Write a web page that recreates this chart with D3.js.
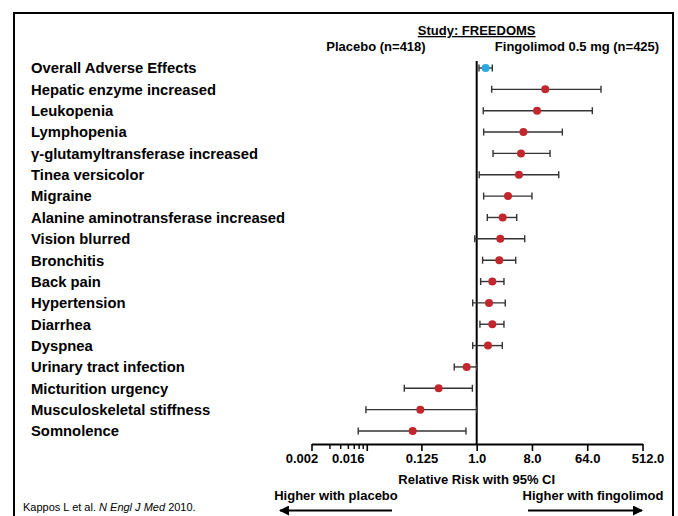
<!DOCTYPE html>
<html>
<head>
<meta charset="utf-8">
<script src="https://cdn.jsdelivr.net/npm/d3@7"></script>
<style>
  body { margin: 0; background: #fff; }
  svg { font-family: 'Liberation Sans', Arial, sans-serif; }
</style>
</head>
<body>
<svg id="forest"></svg>
<script>
const size = {w: 678, h: 516};

// adverse events, top to bottom
const events = [
    'Overall Adverse Effects',
    'Hepatic enzyme increased',
    'Leukopenia',
    'Lymphopenia',
    'γ-glutamyltransferase increased',
    'Tinea versicolor',
    'Migraine',
    'Alanine aminotransferase increased',
    'Vision blurred',
    'Bronchitis',
    'Back pain',
    'Hypertension',
    'Diarrhea',
    'Dyspnea',
    'Urinary tract infection',
    'Micturition urgency',
    'Musculoskeletal stiffness',
    'Somnolence'
];
const relRisk = [1.4, 13.2, 9.7, 5.8, 5.3, 4.9, 3.25, 2.66, 2.43, 2.34, 1.8, 1.59, 1.8, 1.53, 0.686, 0.239, 0.12, 0.09];
const ciLow   = [1.09, 1.76, 1.28, 1.3, 1.85, 1.1, 1.3, 1.49, 0.93, 1.25, 1.16, 0.86, 1.13, 0.86, 0.43, 0.0656, 0.0155, 0.0116];
const ciHigh  = [1.8, 107.5, 77.5, 25.1, 15.8, 21.9, 8.0, 4.51, 6.09, 4.34, 2.79, 2.93, 2.79, 2.62, 1.0, 0.85, 1.0, 0.668];

const majorTicks = [0.002, 0.016, 0.125, 1, 8, 64, 512];
const majorLabels = ['0.002', '0.016', '0.125', '1.0', '8.0', '64.0', '512.0'];
const minorTicks = [0.004, 0.006, 0.008, 0.010, 0.012, 0.014];

const svg = d3.select('svg#forest')
    .attr('width', size.w)
    .attr('height', size.h);

// frame (bottom edge runs off the picture)
svg.append('path')
    .attr('d', 'M14,530 V13 H673 V530')
    .attr('fill', 'none')
    .attr('stroke', '#000')
    .attr('stroke-width', 2);

const x = d3.scaleLog()
    .base(2)
    .domain([0.002, 512])
    .range([311.5, 642.5]);

const y = d3.scalePoint()
    .domain(events)
    .range([68, 431]);

const axisY = 444;

// header
svg.append('text')
    .attr('x', x(1)).attr('y', 35)
    .attr('text-anchor', 'middle')
    .attr('font-size', 13).attr('font-weight', 'bold')
    .attr('text-decoration', 'underline')
    .text('Study: FREEDOMS');
svg.append('text')
    .attr('x', 376).attr('y', 51)
    .attr('text-anchor', 'middle')
    .attr('font-size', 13).attr('font-weight', 'bold')
    .text('Placebo (n=418)');
svg.append('text')
    .attr('x', 577).attr('y', 51)
    .attr('text-anchor', 'middle')
    .attr('font-size', 13).attr('font-weight', 'bold')
    .text('Fingolimod 0.5 mg (n=425)');

// row labels
svg.append('g')
    .selectAll('text')
    .data(events)
    .join('text')
    .attr('x', 31)
    .attr('y', d => y(d))
    .attr('dy', '0.36em')
    .attr('font-size', 14.8)
    .attr('font-weight', 'bold')
    .text(d => d);

// x axis
const axisG = svg.append('g')
    .attr('transform', `translate(0, ${axisY})`);

axisG.call(d3.axisBottom(x)
    .tickValues(majorTicks)
    .tickSize(7)
    .tickSizeOuter(0)
    .tickPadding(3)
    .tickFormat((d, i) => majorLabels[i]));

axisG.select('.domain').attr('stroke-width', 2);
axisG.selectAll('.tick line').attr('stroke-width', 1.6);
const labelNudge = {0: -10, 1: -19, 6: 5};
axisG.selectAll('.tick text')
    .attr('font-size', 13)
    .attr('font-weight', 'bold')
    .attr('font-family', 'Liberation Sans, Arial, sans-serif')
    .attr('fill', '#000')
    .attr('dx', (d, i) => labelNudge[i] || 0);

axisG.append('g')
    .selectAll('line')
    .data(minorTicks)
    .join('line')
    .attr('x1', d => x(d)).attr('x2', d => x(d))
    .attr('y1', 0).attr('y2', 5)
    .attr('stroke', '#000')
    .attr('stroke-width', 1.4);

svg.append('text')
    .attr('x', x(1)).attr('y', 484)
    .attr('text-anchor', 'middle')
    .attr('font-size', 13).attr('font-weight', 'bold')
    .text('Relative Risk with 95% CI');

// line of no effect
svg.append('line')
    .attr('x1', x(1)).attr('x2', x(1))
    .attr('y1', 61).attr('y2', axisY)
    .attr('stroke', '#000')
    .attr('stroke-width', 2);

// confidence intervals
const rows = events.map((name, i) => ({name: name, rr: relRisk[i], lo: ciLow[i], hi: ciHigh[i]}));

const ciG = svg.append('g')
    .selectAll('g')
    .data(rows)
    .join('g')
    .attr('stroke', '#333')
    .attr('stroke-width', 1.4);

ciG.append('line')
    .attr('x1', d => x(d.lo)).attr('x2', d => x(d.hi))
    .attr('y1', d => y(d.name)).attr('y2', d => y(d.name));
ciG.append('line')
    .attr('x1', d => x(d.lo)).attr('x2', d => x(d.lo))
    .attr('y1', d => y(d.name) - 3.5).attr('y2', d => y(d.name) + 3.5);
ciG.append('line')
    .attr('x1', d => x(d.hi)).attr('x2', d => x(d.hi))
    .attr('y1', d => y(d.name) - 3.5).attr('y2', d => y(d.name) + 3.5);

svg.append('g')
    .selectAll('circle')
    .data(rows)
    .join('circle')
    .attr('cx', d => x(d.rr))
    .attr('cy', d => y(d.name))
    .attr('r', 4)
    .attr('fill', (d, i) => i === 0 ? '#29abe2' : '#c1272d');

// direction arrows
svg.append('defs').append('marker')
    .attr('id', 'head')
    .attr('viewBox', '0 0 10 10')
    .attr('refX', 9).attr('refY', 5)
    .attr('markerWidth', 6).attr('markerHeight', 5)
    .attr('markerUnits', 'strokeWidth')
    .attr('orient', 'auto')
    .append('path')
    .attr('d', 'M0,0 L10,5 L0,10 Z')
    .attr('fill', '#000');

svg.append('text')
    .attr('x', 336).attr('y', 500)
    .attr('text-anchor', 'middle')
    .attr('font-size', 13).attr('font-weight', 'bold')
    .text('Higher with placebo');
svg.append('text')
    .attr('x', 593).attr('y', 500)
    .attr('text-anchor', 'middle')
    .attr('font-size', 13).attr('font-weight', 'bold')
    .text('Higher with fingolimod');

svg.append('line')
    .attr('x1', 392).attr('x2', 280)
    .attr('y1', 510.5).attr('y2', 510.5)
    .attr('stroke', '#000').attr('stroke-width', 2)
    .attr('marker-end', 'url(#head)');
svg.append('line')
    .attr('x1', 528).attr('x2', 642)
    .attr('y1', 510.5).attr('y2', 510.5)
    .attr('stroke', '#000').attr('stroke-width', 2)
    .attr('marker-end', 'url(#head)');

// citation
const cite = svg.append('text')
    .attr('x', 23).attr('y', 511)
    .attr('font-size', 11);
cite.append('tspan').text('Kappos L et al. ');
cite.append('tspan').attr('font-style', 'italic').text('N Engl J Med');
cite.append('tspan').text(' 2010.');
</script>
</body>
</html>
